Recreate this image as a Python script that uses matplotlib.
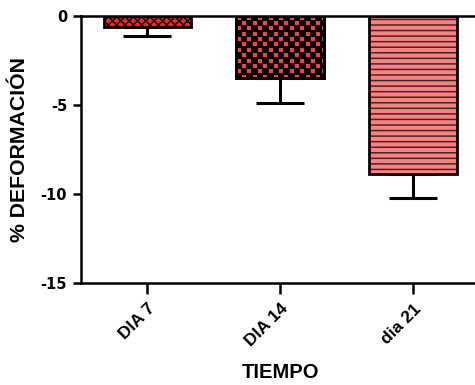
import numpy as np
import matplotlib
matplotlib.use("Agg")
from matplotlib import pyplot as plt

plt.rcParams['font.family'] = ['Liberation Sans', 'DejaVu Sans']
plt.rcParams['font.weight'] = 'bold'
plt.rcParams['axes.unicode_minus'] = False
plt.rcParams['hatch.linewidth'] = 1.1

categories = ['DIA 7', 'DIA 14', 'dia 21']
means = [-0.6, -3.5, -8.9]
errors = [0.5, 1.4, 1.3]
face_colors = ['#ff2020', '#ff4040', '#ff8080']
hatches = ['xxxx', None, '---']
hatch_colors = ['black', 'black', '#3a2a2a']
yticks = [0, -5, -10, -15]

fig = plt.figure(figsize=(4.75, 3.85), dpi=100)
ax = fig.add_axes([81 / 475, 102 / 385, 398.5 / 475, 267 / 385])

x = np.arange(len(categories))
bars = ax.bar(x, means, width=0.66, color=face_colors, edgecolor='black',
              linewidth=2.0, zorder=2)
for b, h, hc in zip(bars, hatches, hatch_colors):
    if h:
        b.set_hatch(h)
        b._hatch_color = matplotlib.colors.to_rgba(hc)

# checker pattern for DIA 14, clipped to the bar
b = bars[1]
x0 = b.get_x()
w, hgt = b.get_width(), b.get_height()
cell = 5.3  # px
nx = int(np.ceil(w * 133 / cell)) + 1
ny = int(np.ceil(abs(hgt) * 17.8 / cell)) + 1
sub = 8
img = np.zeros((ny * sub, nx * sub, 3))
red = np.array([1.0, 0.25, 0.25])
for i in range(ny):
    for j in range(nx):
        if (i + j) % 2 == 0:
            img[i * sub + 1:(i + 1) * sub - 1, j * sub + 1:(j + 1) * sub - 1] = red
ext_w = nx * cell / 133
ext_h = ny * cell / 17.8
im = ax.imshow(img, extent=[x0, x0 + ext_w, -ext_h, 0],
               origin='lower', aspect='auto', interpolation='nearest', zorder=2.5)
im.set_clip_path(b)
ax.bar(x[1], means[1], width=0.66, facecolor='none', edgecolor='black',
       linewidth=2.0, zorder=3)

ax.errorbar(x, means, yerr=[errors, [0, 0, 0]], fmt='none', ecolor='black',
            elinewidth=2.2, capsize=17, capthick=2.2, zorder=1)

ax.set_xlim(-0.5, 2.5)
ax.set_ylim(-15, 0)
ax.set_yticks(yticks)
ax.set_yticklabels([str(v) for v in yticks], fontsize=10.5, fontweight='bold',
                   family='DejaVu Sans')
ax.set_xticks(x)
ax.set_xticklabels(categories, rotation=45, ha='right', rotation_mode='anchor',
                   fontsize=12.5, fontweight='bold')
ax.tick_params(axis='y', width=1.8, length=6, pad=4)
ax.tick_params(axis='x', width=1.8, length=8, pad=5)

ax.spines['right'].set_visible(False)
for s in ['left', 'bottom', 'top']:
    ax.spines[s].set_linewidth(1.8)

ax.set_ylabel('% DEFORMACIÓN', fontsize=15.3, fontweight='bold', labelpad=8)
ax.set_xlabel('TIEMPO', fontsize=14.5, fontweight='bold', labelpad=10)

fig.savefig('out.png', dpi=100)
